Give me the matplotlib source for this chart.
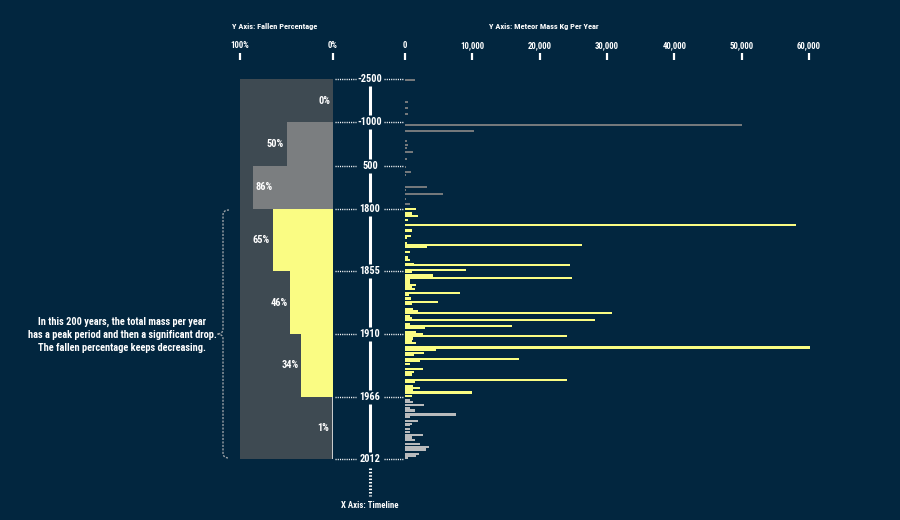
import numpy as np
import matplotlib
matplotlib.use("Agg")
import matplotlib.pyplot as plt
from matplotlib import font_manager
from matplotlib.path import Path
from matplotlib.patches import PathPatch
from matplotlib.transforms import blended_transform_factory

COLORS = {
    "bg"      : "#02263f",
    "panel"   : "#3e4a52",
    "old"     : "#74787b",
    "pct_old" : "#7b7e80",
    "yellow"  : "#fafc83",
    "recent"  : "#b8babc",
    "pct_new" : "#c9cbcc",
    "brace"   : "#9aa0a6",
    "text"    : "#ffffff",
}

# timeline breaks (years) and their vertical layout position (px from top of plot)
BREAK_YEARS = [-2500, -1000, 500, 1800, 1855, 1910, 1966, 2012]
BREAK_POS   = [0, 43, 87, 130, 192, 255, 318, 380]
BREAK_LABELS = ["-2500", "-1000", "500", "1800", "1855", "1910", "1966", "2012"]

# fallen percentage per period
FALLEN_PCT = [0, 50, 86, 65, 46, 34, 1]

# meteor mass (kg) per year
YEARS = [
    -2460, -1700, -1490, -1280,
    -900, -690, -350, -215, -115, 25, 260,
    530, 680, 770, 1135, 1225, 1345, 1500, 1650,
    1800, 1804, 1806, 1810, 1814, 1819, 1824, 1826, 1830, 1832, 1834, 1838,
    1843, 1845, 1849, 1850, 1854,
    1856, 1859, 1861, 1863, 1865, 1867, 1869, 1871, 1874, 1876, 1879, 1882,
    1884, 1888, 1890, 1892, 1894, 1896, 1898, 1901, 1903, 1905, 1908,
    1910, 1912, 1914, 1916, 1918, 1922, 1924, 1927, 1929, 1932, 1934, 1937,
    1941, 1944, 1946, 1951, 1953, 1956, 1958, 1960, 1962, 1965,
    1968, 1970, 1972, 1974, 1976, 1979, 1980, 1981, 1984, 1986, 1987, 1990,
    1992, 1994, 1996, 1998, 2001, 2003, 2005, 2008, 2010, 2011,
]
MASS = [
    1500, 400, 400, 400,
    50000, 10200, 250, 400, 300, 1200, 300,
    150, 900, 100, 3300, 200, 5600, 200, 700,
    1700, 1100, 1900, 400, 58100, 1100, 900, 300, 300, 26300, 3200, 800,
    500, 700, 1400, 24500, 9000,
    1000, 4100, 24800, 700, 800, 1700, 1000, 1500, 8200, 600, 900, 4900,
    1000, 1200, 2000, 30700, 700, 1000, 28200, 800, 15900, 2900, 1600,
    2600, 24100, 1200, 1100, 1600, 60200, 4600, 2800, 1400, 17000, 2300, 700,
    2700, 1400, 1000, 24000, 1500, 1200, 2300, 1200, 9900, 1000,
    700, 1200, 2800, 700, 1500, 7500, 800, 700, 2000, 1000, 800, 800,
    800, 2600, 1000, 1500, 2300, 3600, 3100, 2100, 1600, 500,
]
MASS_TICKS = [0, 10000, 20000, 30000, 40000, 50000, 60000]

NOTE = ("In this 200 years, the total mass per year\n"
        "has a peak period and then a significant drop.\n"
        "The fallen percentage keeps decreasing.")

installed = {f.name for f in font_manager.fontManager.ttflist}
FONT = [f for f in ["Liberation Sans Narrow", "Roboto Condensed", "Open Sans Condensed"]
        if f in installed] + ["DejaVu Sans"]
plt.rcParams["font.family"] = FONT
plt.rcParams["font.weight"] = "bold"

W, H = 900, 520
fig = plt.figure(figsize=(W / 100, H / 100), dpi=100, facecolor=COLORS["bg"])


def px_axes(x0, y0, x1, y1, **kw):
    return fig.add_axes([x0 / W, 1 - y1 / H, (x1 - x0) / W, (y1 - y0) / H], **kw)


ov = px_axes(0, 0, W, H)
ov.set_xlim(0, W)
ov.set_ylim(H, 0)
ov.axis("off")


def top_axis(ax, ticks, labels):
    ax.xaxis.set_ticks_position("top")
    ax.set_xticks(ticks)
    ax.set_xticklabels(labels)
    for s in ax.spines.values():
        s.set_visible(False)
    ax.spines["top"].set_position(("outward", 13.7))
    ax.tick_params(axis="x", colors=COLORS["text"], length=5, width=1.6,
                   pad=2, labelsize=6.3)
    ax.set_yticks([])


# ---- fallen percentage panel
seg_h = np.diff(BREAK_POS)
axp = px_axes(240, 79, 333, 459, facecolor=COLORS["panel"])
axp.set_xlim(100, 0)
axp.set_ylim(BREAK_POS[-1], 0)
pct_colors = [COLORS["pct_old"]] * 3 + [COLORS["yellow"]] * 3 + [COLORS["pct_new"]]
axp.barh(BREAK_POS[:-1], FALLEN_PCT, height=seg_h, left=0, align="edge",
         color=pct_colors, linewidth=0)
for p, y0, h in zip(FALLEN_PCT, BREAK_POS[:-1], seg_h):
    inside = p > 80
    axp.annotate(f"{p}%", xy=(p, y0 + h / 2), xytext=(1.5 if inside else -2, 0),
                 textcoords="offset points", ha="left" if inside else "right",
                 va="center", color=COLORS["text"], fontsize=7.5)
top_axis(axp, [100, 0], ["100%", "0%"])

# ---- mass bars
axb = px_axes(405, 79, 809, 459)
axb.patch.set_alpha(0)
axb.set_xlim(0, 60000)
axb.set_ylim(BREAK_POS[-1], 0)
years = np.array(YEARS)
pos = np.interp(years, BREAK_YEARS, BREAK_POS)
bar_colors = np.where(years < 1800, COLORS["old"],
                      np.where(years < 1966, COLORS["yellow"], COLORS["recent"]))
bar_h = np.where(years < 1800, 1.7, 2.2)
axb.barh(pos, MASS, height=bar_h, color=bar_colors, linewidth=0, clip_on=False)
top_axis(axb, MASS_TICKS, [f"{t:,}" for t in MASS_TICKS])

# ---- timeline
axt = px_axes(333, 79, 405, 459)
axt.set_xlim(333, 405)
axt.set_ylim(BREAK_POS[-1], 0)
axt.axis("off")
dot = dict(color=COLORS["text"], linewidth=1.0, linestyles=(0, (0.8, 0.8)), clip_on=False)
axt.hlines(BREAK_POS, 335, 356, **dot)
axt.hlines(BREAK_POS, 384, 403, **dot)
for y, lab in zip(BREAK_POS, BREAK_LABELS):
    axt.text(370, y, lab, ha="center", va="center", color=COLORS["text"], fontsize=7.5)
seg_top = np.array(BREAK_POS[:-1]) + 7
seg_bot = np.array(BREAK_POS[1:]) - 7
axt.vlines(np.full(len(seg_top), 370), seg_top, seg_bot,
           color=COLORS["text"], linewidth=2.2)
axt.vlines(370, BREAK_POS[-1] + 9, BREAK_POS[-1] + 37, color=COLORS["text"],
           linewidth=2.2, linestyles=(0, (0.5, 0.6)), clip_on=False)
axt.text(370, BREAK_POS[-1] + 46, "X Axis: Timeline", ha="center", va="center",
         color=COLORS["text"], fontsize=6.3)

# ---- headers
ov.text(275, 26, "Y Axis: Fallen Percentage", ha="center", va="center",
        color=COLORS["text"], fontsize=6.0)
ov.text(544, 26, "Y Axis: Meteor Mass Kg Per Year", ha="center", va="center",
        color=COLORS["text"], fontsize=6.0)

# ---- brace over the 1800-2012 span
tr = blended_transform_factory(ov.transData, axb.transData)
y0, y1 = BREAK_POS[3] + 1, BREAK_POS[-1] - 1
ym = (y0 + y1) / 2
verts = [(229, y0), (223, y0), (223, y0 + 5), (223, ym - 5), (223, ym), (217, ym),
         (223, ym), (223, ym + 5), (223, y1 - 5), (223, y1), (229, y1)]
codes = [Path.MOVETO, Path.CURVE3, Path.CURVE3, Path.LINETO, Path.CURVE3, Path.CURVE3,
         Path.CURVE3, Path.CURVE3, Path.LINETO, Path.CURVE3, Path.CURVE3]
ov.add_patch(PathPatch(Path(verts, codes), transform=tr, fill=False,
                       edgecolor=COLORS["brace"], linewidth=1.0, linestyle=(0, (1.5, 1))))
ov.text(122, 335, NOTE, ha="center", va="center", color=COLORS["text"],
        fontsize=7.5, linespacing=1.35)

fig.savefig("out.png", dpi=100, facecolor=COLORS["bg"])
